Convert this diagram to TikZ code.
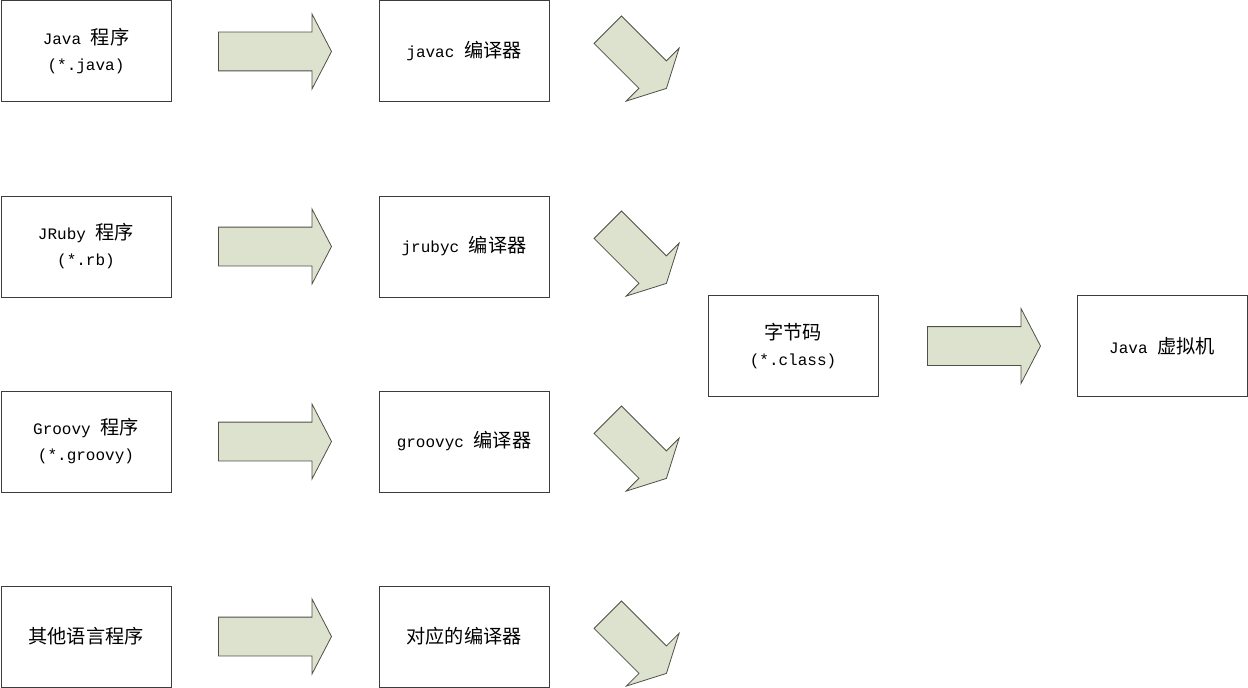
\documentclass[tikz,border=0pt]{standalone}
\usepackage{fontspec}
\setmainfont{Liberation Mono}
\newfontfamily\cjk[Scale=1.2]{Noto Sans CJK SC}
\usepackage{tikz}
\usetikzlibrary{positioning,calc,shapes.arrows}
\definecolor{arrowfill}{RGB}{221,226,207}
\definecolor{arrowline}{RGB}{80,80,70}
\definecolor{boxline}{RGB}{60,60,60}

\begin{document}
\begin{tikzpicture}[x=0.75pt,y=0.75pt,
                box/.style = {draw=boxline, line width=0.75pt, fill=white,
                  minimum width=127.5pt, minimum height=75.75pt, inner sep=0pt,
                  align=center, font=\fontsize{12pt}{19.5pt}\selectfont},
                fat/.style = {single arrow, draw=arrowline, fill=arrowfill, line width=0.6pt,
                  minimum width=55.5pt, single arrow head extend=13.5pt,
                  single arrow tip angle=125, inner xsep=0pt, inner ysep=14.25pt, outer sep=0pt}]
                \useasboundingbox (0,0) rectangle (1248,-688);
                \node[box] (src1) at (86,-51.5) {Java {\cjk 程序}\\(*.java)};
                \node[box] (src2) [below = 69.75pt of src1] {JRuby {\cjk 程序}\\(*.rb)};
                \node[box] (src3) [below = 69.75pt of src2] {Groovy {\cjk 程序}\\(*.groovy)};
                \node[box] (src4) [below = 69.75pt of src3] {\cjk 其他语言程序};
                \node[box] (cmp1) [right = 155.25pt of src1] {javac {\cjk 编译器}};
                \node[box] (cmp2) [right = 155.25pt of src2] {jrubyc {\cjk 编译器}};
                \node[box] (cmp3) [right = 155.25pt of src3] {groovyc {\cjk 编译器}};
                \node[box] (cmp4) [right = 155.25pt of src4] {\cjk 对应的编译器};
                \node[box] (byte) at (793,-346) {{\cjk 字节码}\\(*.class)};
                \node[box] (jvm) [right = 148.5pt of byte] {Java {\cjk 虚拟机}};
                \node[fat, minimum height=84.75pt] (go1) [right = 35.25pt of src1] {};
                \node[fat, minimum height=84.75pt] (go2) [right = 35.25pt of src2] {};
                \node[fat, minimum height=84.75pt] (go3) [right = 35.25pt of src3] {};
                \node[fat, minimum height=84.75pt] (go4) [right = 35.25pt of src4] {};
                \node[fat, minimum height=62.25pt, rotate=-45] (down1) at ($(cmp1)+(169.5,-4)$) {};
                \node[fat, minimum height=62.25pt, rotate=-45] (down2) at ($(cmp2)+(169.5,-4)$) {};
                \node[fat, minimum height=62.25pt, rotate=-45] (down3) at ($(cmp3)+(169.5,-4)$) {};
                \node[fat, minimum height=62.25pt, rotate=-45] (down4) at ($(cmp4)+(169.5,-4)$) {};
                \node[fat, minimum height=84.75pt] (run) [right = 36.75pt of byte] {};
            \end{tikzpicture}
\end{document}
